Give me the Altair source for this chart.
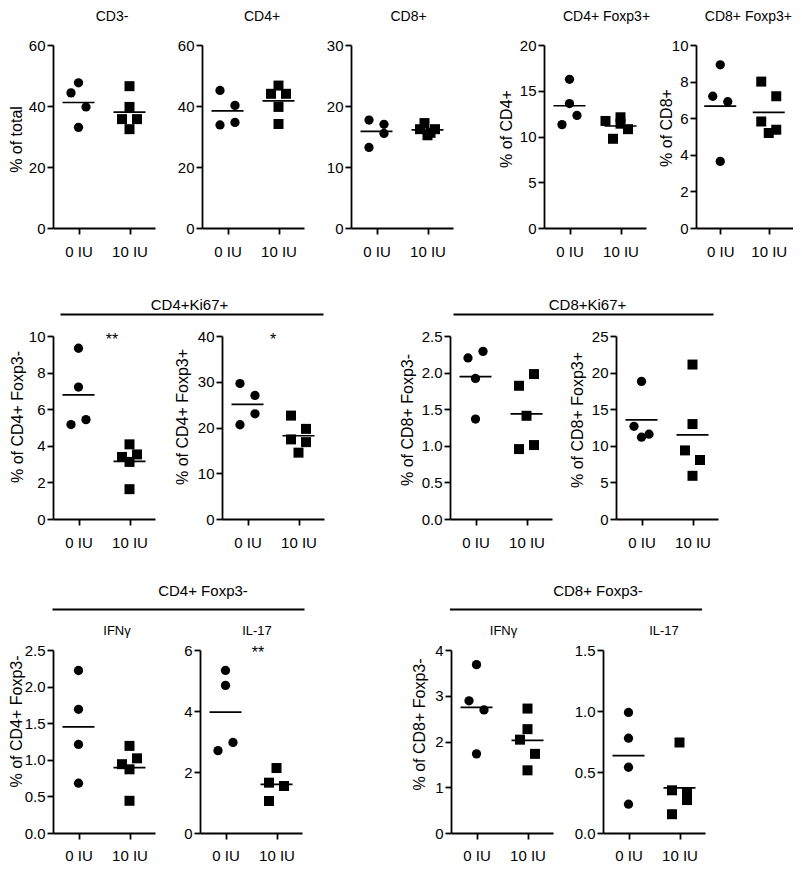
import altair as alt
import pandas as pd

FONT = "Liberation Sans"
GROUPS = ["0 IU", "10 IU"]

# ---- values: 0 IU / 10 IU and a horizontal spread index ----
cd3_0 = [47.6, 44.3, 39.7, 33.0];            cd3_0_s = [0, -1, 1, 0]
cd3_10 = [46.5, 39.7, 35.7, 35.7, 32.4];     cd3_10_s = [0, 0, -1, 1, 0]
cd4_0 = [45.1, 40.2, 33.8, 34.6];            cd4_0_s = [-1, 1, -1, 1]
cd4_10 = [46.7, 44.0, 44.0, 39.7, 34.1];     cd4_10_s = [0, -1, 1, 0, 0]
cd8_0 = [17.7, 17.0, 15.5, 13.2];            cd8_0_s = [-1, 1, 1, -1]
cd8_10 = [17.2, 16.2, 16.2, 15.6, 15.2];     cd8_10_s = [-0.4, -1, 1, 0.4, 0]
treg4_0 = [16.25, 13.6, 12.3, 11.3];         treg4_0_s = [0, 0, 1, -1]
treg4_10 = [11.7, 12.1, 11.4, 10.8, 9.75];   treg4_10_s = [-2, 0, 0, 1, -1]
treg8_0 = [8.92, 7.2, 6.9, 3.64];            treg8_0_s = [0, -1, 1, 0]
treg8_10 = [8.0, 7.2, 5.82, 5.37, 5.19];     treg8_10_s = [-1, 1, -1, 1, 0]
ki4neg_0 = [9.33, 7.21, 5.16, 5.43];         ki4neg_0_s = [0, 0, -1, 1]
ki4neg_10 = [4.08, 3.39, 3.53, 3.12, 1.63];  ki4neg_10_s = [0, -1, 1, 0, 0]
ki4pos_0 = [29.6, 27.0, 23.0, 20.6];         ki4pos_0_s = [-1, 1, 1, -1]
ki4pos_10 = [22.6, 19.7, 17.4, 16.8, 14.5];  ki4pos_10_s = [-1, 1, -1, 1, 0]
ki8neg_0 = [2.2, 2.29, 1.92, 1.365];         ki8neg_0_s = [-1, 1, 0, 0]
ki8neg_10 = [1.82, 1.98, 1.41, 0.955, 1.01]; ki8neg_10_s = [-1, 1, 0, -1, 1]
ki8pos_0 = [18.8, 12.66, 11.17, 11.58];      ki8pos_0_s = [0, -1, 0, 1]
ki8pos_10 = [21.1, 12.97, 9.37, 8.06, 5.9];  ki8pos_10_s = [0, 0, -1, 1, 0]
ifn4_0 = [2.22, 1.69, 1.21, 0.68];           ifn4_0_s = [0, 0, 0, 0]
ifn4_10 = [1.19, 1.02, 0.94, 0.87, 0.44];    ifn4_10_s = [0, 1, -1, 0, 0]
il4_0 = [5.33, 4.84, 2.70, 2.97];            il4_0_s = [0, 0, -1, 1]
il4_10 = [2.13, 1.65, 1.54, 1.05];           il4_10_s = [0, -1, 1, -1]
ifn8_0 = [3.68, 2.89, 2.69, 1.73];           ifn8_0_s = [0, -1, 1, 0]
ifn8_10 = [2.72, 2.27, 2.04, 1.73, 1.37];    ifn8_10_s = [0, 0, -1, 1, 0]
il8_0 = [0.988, 0.777, 0.539, 0.236];        il8_0_s = [0, 0, 0, 0]
il8_10 = [0.742, 0.35, 0.33, 0.27, 0.154];   il8_10_s = [0, -1, 1, 1, -1]

# axis tick values
ticks_60 = [0, 20, 40, 60]
ticks_30 = [0, 10, 20, 30]
ticks_20 = [0, 5, 10, 15, 20]
ticks_10 = [0, 2, 4, 6, 8, 10]
ticks_40 = [0, 10, 20, 30, 40]
ticks_2_5 = [0, 0.5, 1.0, 1.5, 2.0, 2.5]
ticks_25 = [0, 5, 10, 15, 20, 25]
ticks_6 = [0, 2, 4, 6]
ticks_4 = [0, 1, 2, 3, 4]
ticks_1_5 = [0, 0.5, 1.0, 1.5]

W, H = 102, 183


def make_df(v0, s0, v1, s1):
    return pd.DataFrame({
        "group": ["0 IU"] * len(v0) + ["10 IU"] * len(v1),
        "value": v0 + v1,
        "spread": s0 + s1,
    })


def text_layer(label, x, y, size):
    return alt.Chart(pd.DataFrame({"t": [label]})).mark_text(
        font=FONT, fontSize=size, color="black", align="center", baseline="alphabetic"
    ).encode(text="t:N", x=alt.value(x), y=alt.value(y))


def rule_layer(x1, x2, y):
    return alt.Chart(pd.DataFrame({"t": [0]})).mark_rule(color="black", strokeWidth=1.8).encode(
        x=alt.value(x1), x2=alt.value(x2), y=alt.value(y))


def anchor_layer(x, y):
    # invisible layout anchor (fixes the extent of a row)
    return alt.Chart(pd.DataFrame({"t": [0]})).mark_point(filled=True, opacity=0, size=1).encode(
        x=alt.value(x), y=alt.value(y))


def panel(df, ymax, ticks, fmt, ytitle=None, tx=-40, ty=92, width=W, lab_pad=10, extras=()):
    xenc = alt.X("group:N", scale=alt.Scale(type="point", domain=GROUPS, padding=0.5),
                 axis=alt.Axis(labelAngle=0, labelPadding=lab_pad), title=None)
    yscale = alt.Scale(domain=[0, ymax], nice=False, zero=True)
    if ytitle:
        yaxis = alt.Axis(values=ticks, format=fmt, titleX=tx, titleY=ty, titleAlign="center",
                         titleBaseline="middle", titleAngle=270, labelPadding=2)
    else:
        yaxis = alt.Axis(values=ticks, format=fmt, labelPadding=2)
    ytit = ytitle if ytitle else None
    pts = alt.Chart(df).mark_point(filled=True, opacity=1, color="black").encode(
        x=xenc,
        xOffset=alt.XOffset("spread:Q", scale=alt.Scale(domain=[-1, 1], range=[-7.5, 7.5])),
        y=alt.Y("value:Q", scale=yscale, axis=yaxis, title=ytit),
        shape=alt.Shape("group:N", scale=alt.Scale(domain=GROUPS, range=["circle", "square"]),
                        legend=None),
        size=alt.Size("group:N", scale=alt.Scale(domain=GROUPS, range=[86, 100]), legend=None),
    )
    mean = alt.Chart(df).mark_tick(color="black", thickness=1.7, size=32, orient="horizontal").encode(
        x=xenc,
        y=alt.Y("mean(value):Q", scale=yscale, axis=yaxis, title=ytit),
    )
    return alt.layer(pts, mean, *extras).properties(width=width, height=H)


def spacer(w):
    return alt.Chart(pd.DataFrame({"s": [0]})).mark_point(opacity=0).encode(
        x=alt.value(0), y=alt.value(0)).properties(width=w, height=H)


TY1 = -24.5   # baseline of the top-row titles
TY3 = -15.5   # baseline of the cytokine titles

p1 = panel(make_df(cd3_0, cd3_0_s, cd3_10, cd3_10_s), 60, ticks_60, "d", "% of total", -36.5, 94,
           extras=(text_layer("CD3-", 59, TY1, 14), anchor_layer(-44.5, -36),
                   anchor_layer(0, H + 40)))
p2 = panel(make_df(cd4_0, cd4_0_s, cd4_10, cd4_10_s), 60, ticks_60, "d",
           extras=(text_layer("CD4+", 60, TY1, 14),))
p3 = panel(make_df(cd8_0, cd8_0_s, cd8_10, cd8_10_s), 30, ticks_30, "d",
           extras=(text_layer("CD8+", 57.5, TY1, 14),))
p4 = panel(make_df(treg4_0, treg4_0_s, treg4_10, treg4_10_s), 20, ticks_20, "d", "% of CD4+",
           -38, 83.5, extras=(text_layer("CD4+ Foxp3+", 62.5, TY1, 14),))
p5 = panel(make_df(treg8_0, treg8_0_s, treg8_10, treg8_10_s), 10, ticks_10, "d", "% of CD8+",
           -30, 82.5, width=97, extras=(text_layer("CD8+ Foxp3+", 52.4, TY1, 14),))

p6 = panel(make_df(ki4neg_0, ki4neg_0_s, ki4neg_10, ki4neg_10_s), 10, ticks_10, "d",
           "% of CD4+ Foxp3-", -35.5, 80.5,
           extras=(text_layer("CD4+Ki67+", 136.5, -26, 15), rule_layer(7.5, 270.5, -21.5),
                   text_layer("**", 59, 8.6, 16), anchor_layer(-44.5, -45.87),
                   anchor_layer(0, H + 40)))
p7 = panel(make_df(ki4pos_0, ki4pos_0_s, ki4pos_10, ki4pos_10_s), 40, ticks_40, "d",
           "% of CD4+ Foxp3+", -39.5, 80.5, extras=(text_layer("*", 51, 8.6, 16),))
p8 = panel(make_df(ki8neg_0, ki8neg_0_s, ki8neg_10, ki8neg_10_s), 2.5, ticks_2_5, ".1f",
           "% of CD8+ Foxp3-", -42.5, 83.5,
           extras=(text_layer("CD8+Ki67+", 137.5, -26, 15), rule_layer(3.5, 263.5, -21.5)))
p9 = panel(make_df(ki8pos_0, ki8pos_0_s, ki8pos_10, ki8pos_10_s), 25, ticks_25, "d",
           "% of CD8+ Foxp3+", -38.5, 83.5)

p10 = panel(make_df(ifn4_0, ifn4_0_s, ifn4_10, ifn4_10_s), 2.5, ticks_2_5, ".1f",
            "% of CD4+ Foxp3-", -36.5, 71, lab_pad=9,
            extras=(text_layer("IFNγ", 64, TY3, 13),
                    text_layer("CD4+ Foxp3-", 150, -54.5, 15), rule_layer(-0.5, 251.5, -40.5),
                    anchor_layer(-44.5, -68.87)))
p11 = panel(make_df(il4_0, il4_0_s, il4_10, il4_10_s), 6, ticks_6, "d", lab_pad=9,
            extras=(text_layer("IL-17", 57, TY3, 13), text_layer("**", 58, 8.1, 16)))
p12 = panel(make_df(ifn8_0, ifn8_0_s, ifn8_10, ifn8_10_s), 4, ticks_4, "d",
            "% of CD8+ Foxp3-", -32, 74, lab_pad=9,
            extras=(text_layer("IFNγ", 52.5, TY3, 13),
                    text_layer("CD8+ Foxp3-", 147, -54.5, 15), rule_layer(-1, 251, -40.5)))
p13 = panel(make_df(il8_0, il8_0_s, il8_10, il8_10_s), 1.5, ticks_1_5, ".1f", lab_pad=9,
            extras=(text_layer("IL-17", 61, TY3, 13),))

RES = dict(x="independent", y="independent", xOffset="independent", shape="independent",
           size="independent")


def row(items):
    return alt.hconcat(*items, spacing=0, bounds="flush").resolve_scale(**RES)


row1 = row([p1, spacer(47), p2, spacer(47), p3, spacer(90.5), p4, spacer(50), p5])
row2 = row([p6, spacer(67), p7, spacer(126), p8, spacer(64), p9])
row3 = row([p10, spacer(45), p11, spacer(148.5), p12, spacer(49.5), p13])

chart = alt.vconcat(row1, row2, row3, spacing=20).resolve_scale(**RES).properties(
    padding=0
).configure_view(stroke=None).configure_axis(
    domainColor="black", domainWidth=1.8, tickColor="black", tickWidth=1.8, tickSize=6,
    labelFont=FONT, labelFontSize=15, labelColor="black", grid=False,
    titleFont=FONT, titleFontSize=16, titleFontWeight="normal", titleColor="black"
)

chart.save("out.html", embed_options={"renderer": "svg", "actions": False})
